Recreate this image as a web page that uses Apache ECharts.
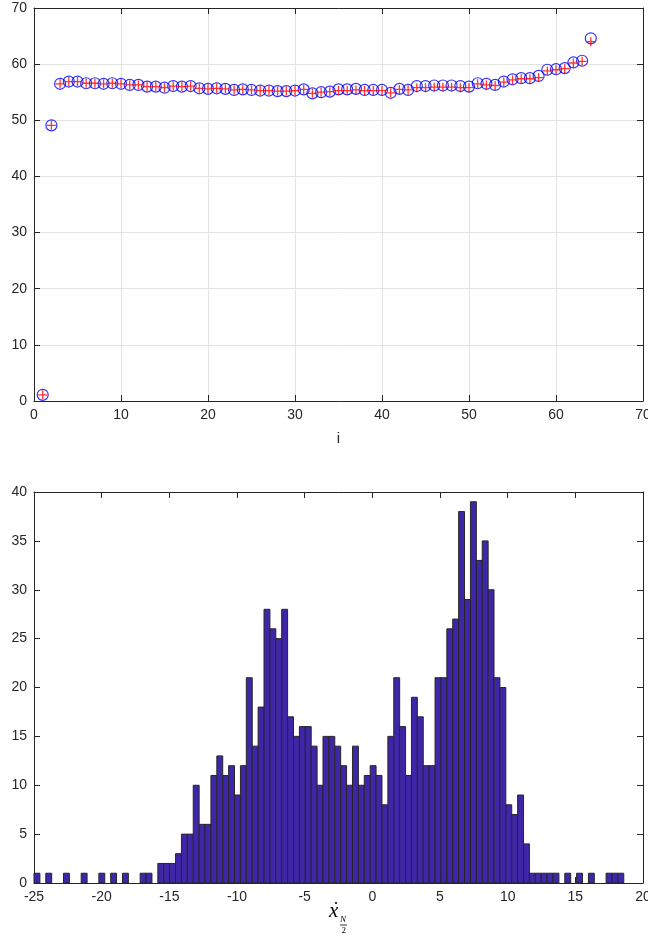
<!DOCTYPE html>
<html>
<head>
<meta charset="utf-8">
<script src="https://cdn.jsdelivr.net/npm/echarts@6/dist/echarts.min.js"></script>
<style>
html,body{margin:0;padding:0;background:#fff;overflow:hidden;width:648px;height:942px;}
#chart{width:648px;height:942px;}
</style>
</head>
<body>
<div id="chart"></div>
<script>
// ---- Top plot data ----
const idx = [1,2,3,4,5,6,7,8,9,10,11,12,13,14,15,16,17,18,19,20,21,22,23,24,25,26,27,28,29,30,31,32,33,34,35,36,37,38,39,40,41,42,43,44,45,46,47,48,49,50,51,52,53,54,55,56,57,58,59,60,61,62,63,64];
const circleVals = [1.1,49.1,56.5,56.9,56.9,56.6,56.6,56.5,56.6,56.5,56.3,56.3,56.0,56.0,55.8,56.1,56.0,56.1,55.7,55.6,55.7,55.6,55.4,55.5,55.4,55.3,55.3,55.2,55.2,55.3,55.5,54.8,55.0,55.1,55.5,55.5,55.6,55.4,55.4,55.4,54.9,55.6,55.4,56.1,56.1,56.2,56.2,56.2,56.1,56.0,56.6,56.5,56.3,56.9,57.3,57.5,57.5,57.9,59.0,59.1,59.3,60.3,60.6,64.6];
const plusVals = [1.1,49.1,56.5,56.9,56.9,56.6,56.6,56.5,56.6,56.5,56.3,56.3,56.0,56.0,55.8,56.1,56.0,56.1,55.7,55.6,55.7,55.6,55.4,55.5,55.4,55.3,55.3,55.2,55.2,55.3,55.5,54.8,55.0,55.1,55.3,55.3,55.4,55.3,55.3,55.3,54.9,55.5,55.4,55.8,55.8,55.9,55.9,55.9,55.8,55.8,56.5,56.3,56.2,56.8,57.2,57.4,57.4,57.6,58.8,59.0,59.2,60.2,60.5,64.0];
const topXTicks = {min:0, max:70, step:10};
const topYTicks = {min:0, max:70, step:10};

// ---- Histogram data ----
const binStart = -25;
const binWidth = 0.4358;
const counts = [1,0,1,0,0,1,0,0,1,0,0,1,0,1,0,1,0,0,1,1,
                0,2,2,2,3,5,5,10,6,6,11,13,11,12,9,12,21,14,18,28,
                26,25,28,17,15,16,16,14,10,15,15,14,12,10,14,10,11,12,11,8,
                15,21,16,11,19,17,12,12,21,21,26,27,38,29,39,33,35,30,21,20,
                8,7,9,4,1,1,1,1,1,0,1,0,1,0,1,0,0,1,1,1];
const botXTicks = {min:-25, max:20, step:5};
const botYTicks = {min:0, max:40, step:5};

const histData = [];
counts.forEach((c, k) => {
  if (c > 0) histData.push([binStart + k * binWidth, binStart + (k + 1) * binWidth, c]);
});

const AX = '#262626';
const FONT = 'Liberation Sans, Arial, Helvetica, sans-serif';

function mainAxis(grid, t, pos, extra) {
  return Object.assign({
    gridIndex: grid, type: 'value', position: pos,
    min: t.min, max: t.max, interval: t.step,
    axisLine: {show: true, onZero: false, lineStyle: {color: AX, width: 1}},
    axisTick: {show: true, inside: true, length: 6, lineStyle: {color: AX}},
    axisLabel: {show: true, color: AX, fontSize: 14, fontFamily: FONT, margin: 7, hideOverlap: false},
    splitLine: {show: false}
  }, extra || {});
}
function boxAxis(grid, t, pos) {
  return {
    gridIndex: grid, type: 'value', position: pos,
    min: t.min, max: t.max, interval: t.step,
    axisLine: {show: true, onZero: false, lineStyle: {color: AX, width: 1}},
    axisTick: {show: true, inside: true, length: 6, lineStyle: {color: AX}},
    axisLabel: {show: false},
    splitLine: {show: false}
  };
}

const chart = echarts.init(document.getElementById('chart'), null, {renderer: 'canvas', width: 648, height: 942});
chart.setOption({
  animation: false,
  backgroundColor: '#ffffff',
  grid: [
    {left: 34, right: 5, top: 8, height: 393, containLabel: false, outerBoundsMode: 'none'},
    {left: 34, right: 5, top: 492, height: 391, containLabel: false, outerBoundsMode: 'none'}
  ],
  xAxis: [
    mainAxis(0, topXTicks, 'bottom', {
      splitLine: {show: true, lineStyle: {color: '#e3e3e3', width: 1}},
      name: 'i', nameLocation: 'middle', nameGap: 30,
      nameTextStyle: {color: AX, fontSize: 15, fontFamily: FONT}
    }),
    boxAxis(0, topXTicks, 'top'),
    mainAxis(1, botXTicks, 'bottom'),
    boxAxis(1, botXTicks, 'top')
  ],
  yAxis: [
    mainAxis(0, topYTicks, 'left', {splitLine: {show: true, lineStyle: {color: '#e3e3e3', width: 1}}}),
    boxAxis(0, topYTicks, 'right'),
    mainAxis(1, botYTicks, 'left'),
    boxAxis(1, botYTicks, 'right')
  ],
  series: [
    {
      type: 'scatter', xAxisIndex: 0, yAxisIndex: 0,
      data: idx.map((v, k) => [v, circleVals[k]]),
      symbol: 'circle', symbolSize: 11,
      itemStyle: {color: 'rgba(0,0,0,0)', borderColor: '#0000ff', borderWidth: 1.2},
      z: 3
    },
    {
      type: 'scatter', xAxisIndex: 0, yAxisIndex: 0,
      data: idx.map((v, k) => [v, plusVals[k]]),
      symbol: 'path://M0,5L10,5M5,0L5,10', symbolSize: 9,
      itemStyle: {color: 'rgba(0,0,0,0)', borderColor: '#ff0000', borderWidth: 1.3},
      z: 4
    },
    {
      type: 'custom', xAxisIndex: 2, yAxisIndex: 2,
      data: histData,
      encode: {x: [0, 1], y: 2},
      renderItem: function (params, api) {
        const p0 = api.coord([api.value(0), 0]);
        const p1 = api.coord([api.value(1), api.value(2)]);
        return {
          type: 'rect',
          shape: {x: p0[0], y: p1[1], width: p1[0] - p0[0], height: p0[1] - p1[1]},
          style: {fill: '#3E26A8', stroke: '#262626', lineWidth: 1}
        };
      }
    }
  ],
  graphic: [
    {type: 'text', left: 329, top: 901,
     style: {text: 'x', font: 'italic 21px "Liberation Serif", "DejaVu Serif", serif', fill: '#000'}},
    {type: 'circle', shape: {cx: 336, cy: 903, r: 1.1}, style: {fill: '#000'}},
    {type: 'text', left: 340, top: 915,
     style: {text: 'N', font: 'italic 9px "Liberation Serif", "DejaVu Serif", serif', fill: '#000'}},
    {type: 'line', shape: {x1: 340, y1: 925, x2: 347, y2: 925}, style: {stroke: '#000', lineWidth: 0.8}},
    {type: 'text', left: 341.5, top: 926,
     style: {text: '2', font: '9px "Liberation Serif", "DejaVu Serif", serif', fill: '#000'}}
  ]
});
</script>
</body>
</html>
